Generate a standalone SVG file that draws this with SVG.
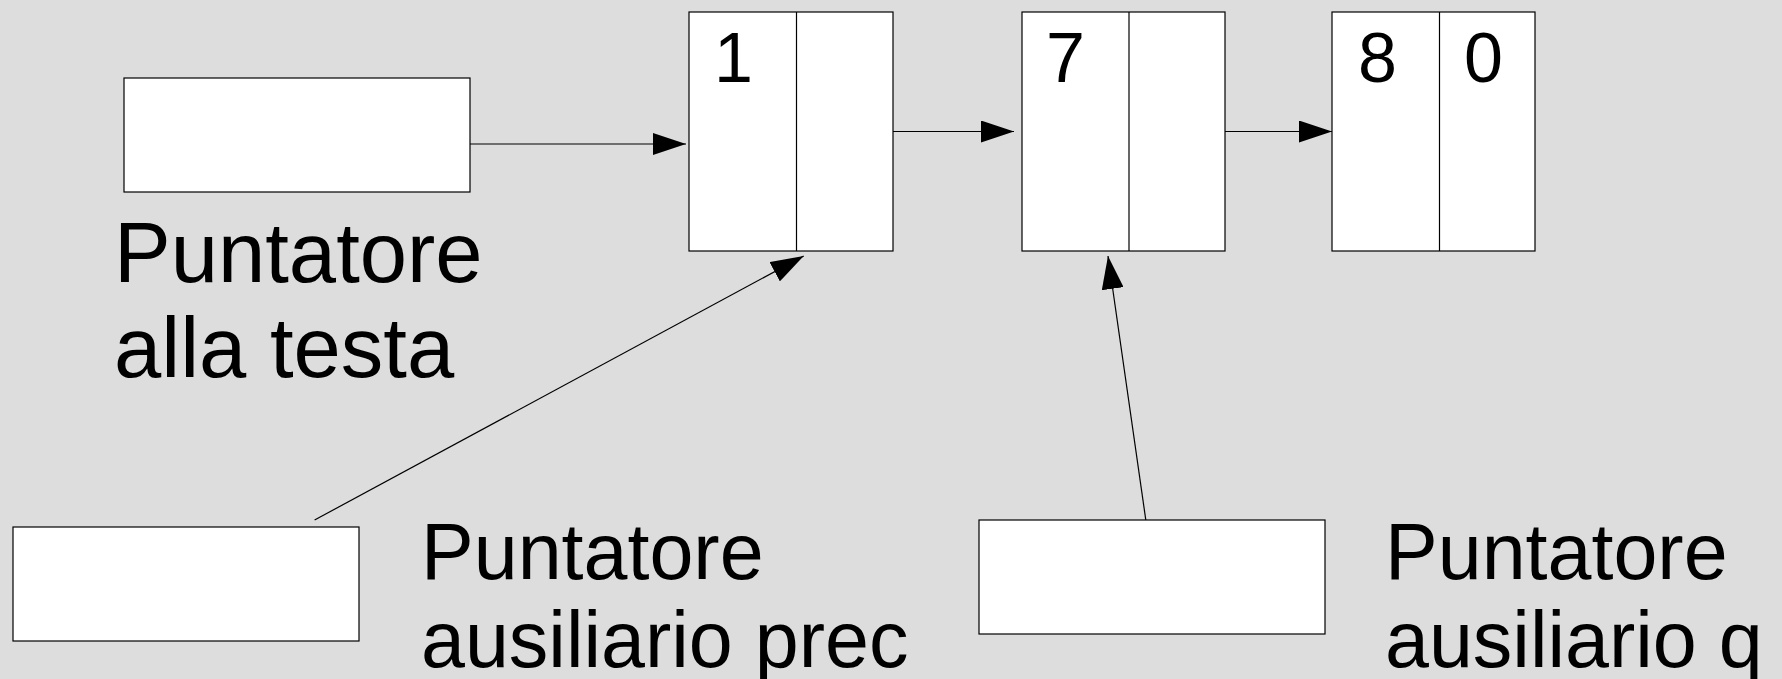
<svg xmlns="http://www.w3.org/2000/svg" width="1782" height="679" viewBox="0 0 1782 679">
<style>
.box{fill:#fff;stroke:#000;stroke-width:1.2}
.div{stroke:#000;stroke-width:1.2}
.lbl{font-family:"Liberation Sans",Arial,sans-serif;font-size:85px;fill:#000}
.lbl2{font-family:"Liberation Sans",Arial,sans-serif;font-size:79px;fill:#000}
.dig{font-family:"Liberation Sans",Arial,sans-serif;font-size:70px;fill:#000}
.con{stroke:#000;stroke-width:1.2;fill:none;marker-end:url(#ah)}
</style>
<defs>
<marker id="ah" markerUnits="userSpaceOnUse" markerWidth="34" markerHeight="22" refX="33" refY="11" orient="auto" viewBox="0 0 34 22">
<path d="M0,0 L33,11 L0,22 z" fill="#000"/>
</marker>
</defs>
<rect width="1782" height="679" fill="#dddddd"/>
<g id="head">
<rect class="box" x="124" y="78" width="346" height="114"/>
<text class="lbl" x="114" y="282">Puntatore</text>
<text class="lbl" x="114" y="377">alla testa</text>
</g>
<g id="node1">
<rect class="box" x="689" y="12" width="204" height="239"/>
<line class="div" x1="796.5" y1="12" x2="796.5" y2="251"/>
<text class="dig" x="714" y="82">1</text>
</g>
<g id="node7">
<rect class="box" x="1022" y="12" width="203" height="239"/>
<line class="div" x1="1129" y1="12" x2="1129" y2="251"/>
<text class="dig" x="1046" y="82">7</text>
</g>
<g id="node8">
<rect class="box" x="1332" y="12" width="203" height="239"/>
<line class="div" x1="1439.5" y1="12" x2="1439.5" y2="251"/>
<text class="dig" x="1358" y="82">8</text>
<text class="dig" x="1464" y="82">0</text>
</g>
<g id="prec">
<rect class="box" x="13" y="527" width="346" height="114"/>
<text class="lbl2" x="421" y="579">Puntatore</text>
<text class="lbl2" x="421" y="667">ausiliario prec</text>
</g>
<g id="q">
<rect class="box" x="979" y="520" width="346" height="114"/>
<text class="lbl2" x="1385" y="579">Puntatore</text>
<text class="lbl2" x="1385" y="667">ausiliario q</text>
</g>
<g id="connectors">
<line class="con" x1="470" y1="144" x2="686" y2="144"/>
<line class="con" x1="893" y1="131.5" x2="1014" y2="131.5"/>
<line class="con" x1="1225" y1="131.5" x2="1332" y2="131.5"/>
<line class="con" x1="314.6" y1="520" x2="803.7" y2="256"/>
<line class="con" x1="1145.8" y1="520" x2="1108" y2="256"/>
</g>
</svg>
